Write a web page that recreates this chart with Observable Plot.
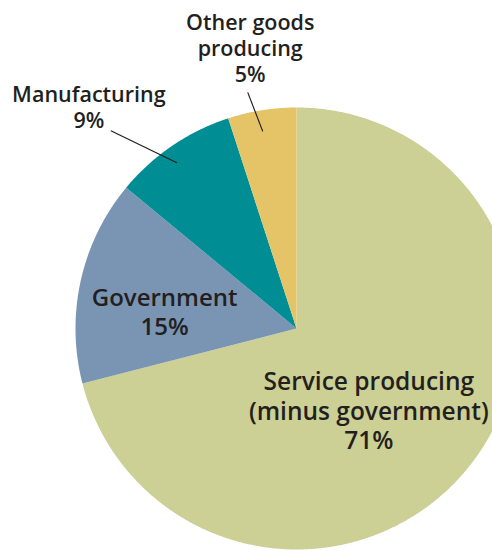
<!DOCTYPE html>
<html><head><meta charset="utf-8">
<script src="https://cdn.jsdelivr.net/npm/d3@7"></script>
<script src="https://cdn.jsdelivr.net/npm/@observablehq/plot@0.6"></script>
<style>html,body{margin:0;padding:0;background:#fff;overflow:hidden;} #chart svg{display:block;}</style>
</head><body><div id="chart"></div>
<script>
// ---- data ----
const categories = ["Service producing (minus government)", "Government", "Manufacturing", "Other goods producing"];
const labelText = ["Service producing\n(minus government)", "Government", "Manufacturing", "Other goods\nproducing"];
const shares = [71, 15, 9, 5];
const colors = ["#cdd094", "#7a95b4", "#008e94", "#e5c467"];

// ---- layout ----
const W = 492, H = 550, CX = 296, CY = 328, R = 221;
const arcs = d3.pie().sort(null).value(d => d)(shares);

const pts = [];
arcs.forEach((a, i) => {
  const n = Math.max(2, Math.ceil((a.endAngle - a.startAngle) / 0.005));
  pts.push({cat: categories[i], x: 0, y: 0});
  for (let k = 0; k <= n; k++) {
    const t = a.startAngle + (a.endAngle - a.startAngle) * k / n;
    pts.push({cat: categories[i], x: Math.sin(t), y: Math.cos(t)});
  }
  pts.push({cat: categories[i], x: 0, y: 0});
});

const ang = (a, f) => a.startAngle + (a.endAngle - a.startAngle) * f;

// inside labels (anchored at a point inside each slice)
const insideSpec = [
  {i: 0, f: 0.5, r: 0.5},
  {i: 1, f: 0.5, r: 0.5}
];
const insideLabels = insideSpec.map(s => {
  const t = ang(arcs[s.i], s.f);
  return {...s, x: s.r * Math.sin(t), y: s.r * Math.cos(t), text: labelText[s.i] + "\n" + shares[s.i] + "%"};
});

// outside labels with leader lines
const outsideSpec = [
  {i: 2, f: 0.45, r: 0.925, ox: -66, oy: -32},
  {i: 3, f: 0.46, r: 0.905, ox: -15, oy: -39}
];
const leaders = outsideSpec.map(s => {
  const t = ang(arcs[s.i], s.f);
  const x1 = s.r * Math.sin(t), y1 = s.r * Math.cos(t);
  return {...s, x1, y1, x2: x1 + s.ox / R, y2: y1 - s.oy / R, text: labelText[s.i] + "\n" + shares[s.i] + "%"};
});

const ink = "#231f20";
const chart = Plot.plot({
  width: W, height: H, margin: 0,
  x: {domain: [-CX / R, (W - CX) / R], axis: null},
  y: {domain: [(CY - H) / R, CY / R], axis: null},
  color: {domain: categories, range: colors},
  style: {fontFamily: "'Open Sans', sans-serif", color: ink, background: "white", overflow: "hidden"},
  marks: [
    Plot.line(pts, {x: "x", y: "y", z: "cat", fill: "cat", stroke: "none", curve: "linear"}),
    Plot.link(leaders, {x1: "x1", y1: "y1", x2: "x2", y2: "y2", stroke: ink, strokeWidth: 1.2}),
    Plot.text(insideLabels.filter(d => d.i === 0), {x: "x", y: "y", text: "text", fontSize: 24.5, fontWeight: 600, lineHeight: 1.2, fill: ink, textAnchor: "middle", lineAnchor: "middle", dx: -15, dy: 14}),
    Plot.text(insideLabels.filter(d => d.i === 1), {x: "x", y: "y", text: "text", fontSize: 24, fontWeight: 600, lineHeight: 1.19, fill: ink, textAnchor: "middle", lineAnchor: "middle", dx: -24, dy: 7}),
    Plot.text(leaders.filter(d => d.i === 2), {x: "x2", y: "y2", text: "text", fontSize: 21.5, fontWeight: 600, lineHeight: 1.19, fill: ink, textAnchor: "middle", lineAnchor: "middle", dx: -22, dy: -24}),
    Plot.text(leaders.filter(d => d.i === 3), {x: "x2", y: "y2", text: "text", fontSize: 21.5, fontWeight: 600, lineHeight: 1.19, fill: ink, textAnchor: "middle", lineAnchor: "middle", dx: 2.5, dy: -44.5})
  ]
});
document.getElementById("chart").appendChild(chart);
</script>
</body></html>
